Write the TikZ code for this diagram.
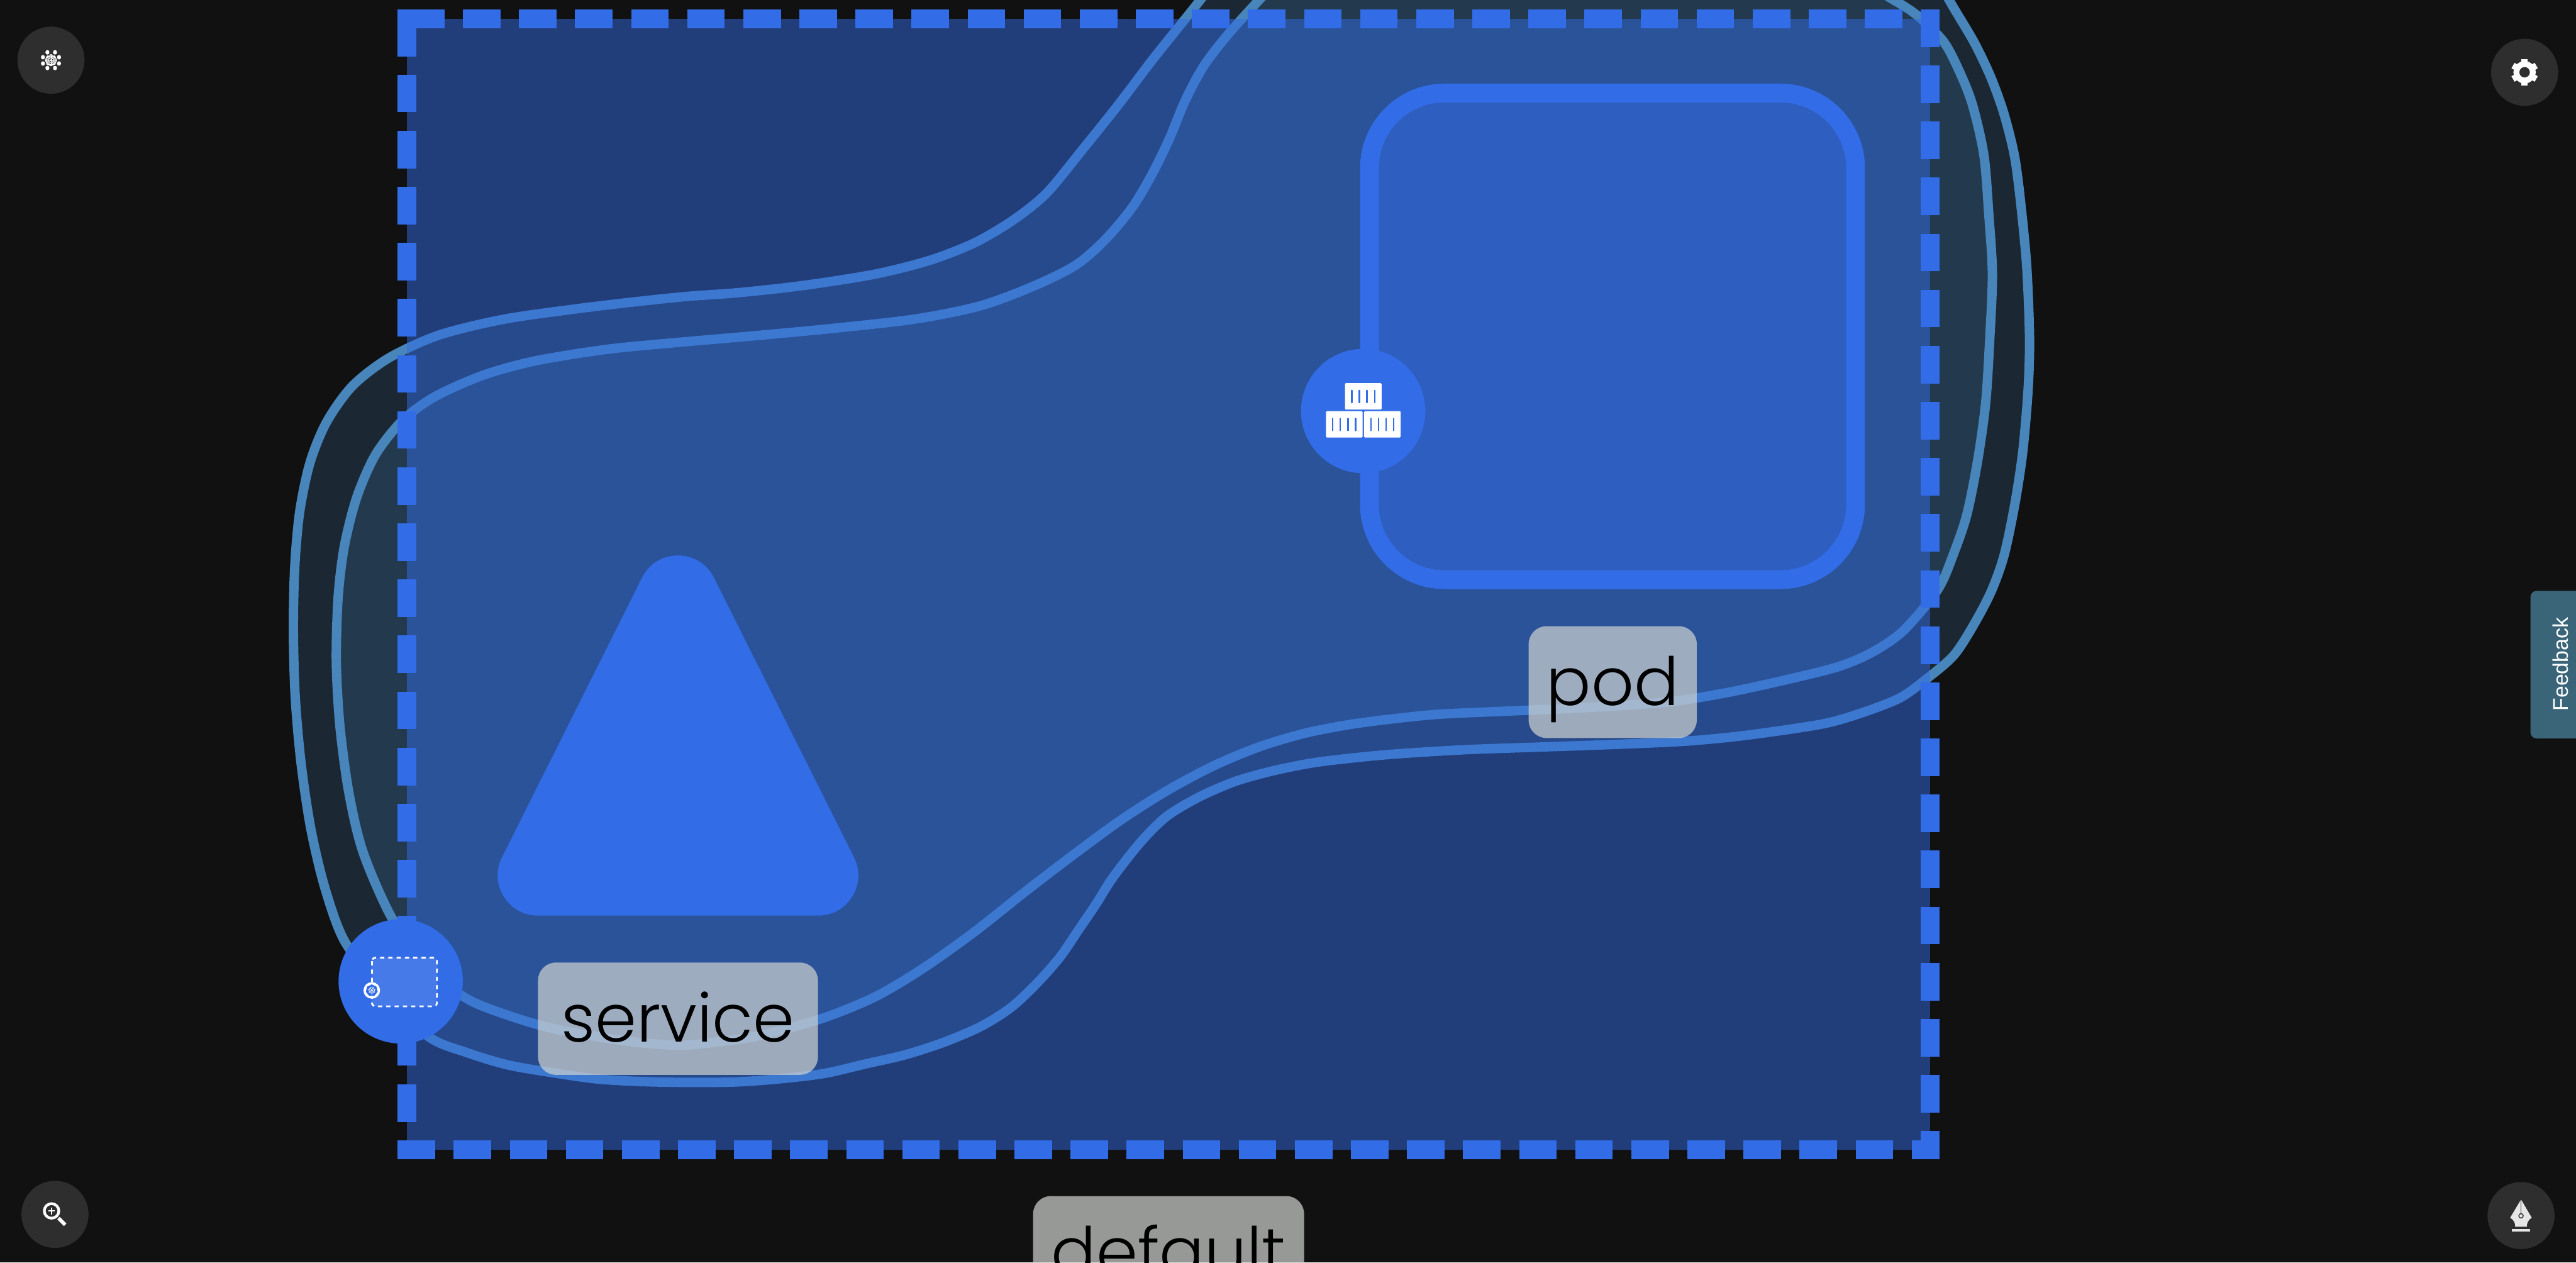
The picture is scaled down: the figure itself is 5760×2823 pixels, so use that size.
\documentclass[tikz,border=0pt]{standalone}
\usepackage{fontspec}
\usepackage{xcolor}
\usetikzlibrary{shapes.geometric}
\setmainfont{Liberation Sans}
\newfontfamily\labelfont{Poppins}[UprightFont=* Light]
\definecolor{bgdark}{HTML}{111111}
\definecolor{mainblue}{HTML}{326CE6}
\definecolor{blobline}{HTML}{4785BB}
\definecolor{btngrey}{HTML}{2E2E2E}
\definecolor{tabteal}{HTML}{3A6478}
\definecolor{labelgrey}{HTML}{D0D3CF}
\definecolor{nibgrey}{HTML}{E6E6E6}
\tikzset{
    blob/.style={draw=blobline, fill=blobline, fill opacity=0.2, draw opacity=1, line width=2.1pt, line join=round},
    nsedge/.style={draw=mainblue, line width=4.2pt, dash pattern=on 8.4pt off 4.14pt},
    podbox/.style={draw=mainblue, fill=mainblue, fill opacity=0.5, draw opacity=1, line width=4.2pt, rounded corners=16.8pt, inner sep=0pt},
    portdot/.style={circle, fill=mainblue, inner sep=0pt, minimum size=27.8pt},
    toolbtn/.style={circle, fill=btngrey, inner sep=0pt, minimum size=15pt},
    objlabel/.style={fill=labelgrey, fill opacity=0.7, text opacity=1, text=black, rounded corners=4pt, inner sep=0pt,
        text height=12pt, text depth=1.6pt, font=\labelfont\fontsize{14.9}{18}\selectfont},
    crate/.style={fill=white, rounded corners=0.2pt}
}
\begin{document}
\begin{tikzpicture}[x=0.1pt, y=-0.1pt]
    \useasboundingbox (0,0) rectangle (5760,2823);
    \clip (0,0) rectangle (5760,2823);
    \fill[bgdark] (0,0) rectangle (5760,2823);

    \path[blob] plot[smooth cycle, tension=0.5] coordinates {
        (772,2107) (727,1987) (695,1853) (673,1705) (660,1556) (656,1408) (659,1269) (670,1145) (693,1035) (730,944)
        (788,863) (870,800) (982,749) (1125,714) (1277,692) (1400,677) (1533,663) (1655,654) (1798,638) (1956,613)
        (2079,582) (2181,542) (2267,491) (2340,432) (2420,335) (2500,235) (2579,131) (2660,30) (2740,-70) (2830,-170)
        (3000,-280) (3300,-350) (3600,-350) (3900,-320) (4120,-230) (4260,-130) (4330,-45) (4374,27) (4416,98) (4452,174)
        (4481,255) (4505,352) (4520,470) (4532,600) (4538,754) (4535,868) (4523,1009) (4505,1128) (4481,1242) (4452,1323)
        (4412,1399) (4368,1466) (4305,1520) (4247,1561) (4162,1594) (4073,1619) (3904,1644) (3770,1657) (3620,1664) (3450,1670)
        (3279,1676) (3130,1685) (3040,1693) (2939,1705) (2848,1723) (2762,1747) (2681,1782) (2609,1825) (2552,1881) (2489,1961)
        (2451,2021) (2413,2077) (2370,2140) (2317,2200) (2260,2253) (2193,2295) (2111,2330) (2025,2358) (1934,2379) (1843,2400)
        (1743,2412) (1645,2419) (1537,2420) (1430,2418) (1332,2412) (1234,2398) (1136,2381) (1046,2354) (957,2317) (860,2215)};
    \path[blob] plot[smooth cycle, tension=0.5] coordinates {
        (877,2054) (812,1906) (780,1772) (760,1623) (752,1480) (756,1336) (770,1221) (798,1111) (840,1016) (900,940)
        (972,887) (1080,839) (1196,807) (1357,781) (1522,765) (1706,749) (1874,733) (2048,713) (2191,684) (2308,641)
        (2405,593) (2471,536) (2530,466) (2573,395) (2614,312) (2650,225) (2690,150) (2735,90) (2783,35) (2840,-25)
        (2920,-100) (3100,-200) (3300,-260) (3600,-260) (3850,-200) (4020,-120) (4130,-60) (4226,-5) (4285,33) (4345,92)
        (4380,157) (4410,233) (4436,347) (4447,480) (4455,613) (4449,759) (4440,900) (4422,1030) (4398,1150) (4369,1236)
        (4333,1318) (4256,1410) (4185,1459) (4109,1491) (3993,1520) (3859,1549) (3725,1570) (3546,1582) (3368,1590) (3216,1597)
        (3107,1608) (3011,1621) (2915,1640) (2815,1670) (2714,1712) (2609,1768) (2504,1835) (2399,1912) (2293,1993) (2178,2084)
        (2064,2165) (1958,2228) (1841,2276) (1700,2315) (1600,2330) (1520,2337) (1404,2328) (1243,2301) (1136,2270) (1046,2234)
        (960,2170)};

    \fill[mainblue, fill opacity=0.5] (910,42) rectangle (4316,2570);
    \draw[draw=mainblue, line width=4.2pt] (910,126) -- (910,42) -- (994,42);
    \draw[nsedge] (1035,42) -- (4316,42);
    \draw[nsedge] (910,167) -- (910,2591);
    \draw[nsedge] (889,2570) -- (4337,2570);
    \draw[nsedge] (4316,21) -- (4316,2591);

    \node[podbox, minimum width=108.7pt, minimum height=108.8pt] (podrect) at (3605.5,752) {};
    \node[portdot] (podport) at (3048,919) {};
    \fill[crate] (3007.3,856.7) rectangle (3089.3,915.7);
    \fill[crate] (2965,919.3) rectangle (3046.7,978.3);
    \fill[crate] (3050,919.3) rectangle (3132,978.3);
    \foreach \sx in {3022.7,3039.7,3056.7,3073.7}
        \draw[mainblue, line width=0.35pt, line cap=round] (\sx,873) -- (\sx,900);
    \foreach \sx in {2980,2997,3014,3031,3065.3,3082.3,3099.3,3116.3}
        \draw[mainblue, line width=0.35pt, line cap=round] (\sx,935.5) -- (\sx,962.5);

    \filldraw[mainblue, line width=18pt, line join=round] (1516,1332) -- (1829,1957) -- (1203,1957) -- cycle;

    \node[portdot] (svcport) at (896,2194) {};
    \draw[white, line width=0.4pt, dash pattern=on 0.95pt off 0.9pt, fill=white, fill opacity=0.1, draw opacity=1, rounded corners=0.8pt] (831.7,2141) rectangle (977,2250);
    \node[circle, fill=white, inner sep=0pt, minimum size=3.7pt] (svcbadge) at (831.3,2214.3) {};
    \node[regular polygon, regular polygon sides=7, fill=mainblue, inner sep=0pt, minimum size=2.7pt] (svchept) at (svcbadge) {};
    \draw[white, line width=0.1pt] (svcbadge) circle[radius=6.5];
    \foreach \a in {0,51.4,...,360}
        \draw[white, line width=0.08pt] (svcbadge.center) -- ++(\a+90:8.5);

    \node[objlabel, minimum width=62.6pt, minimum height=25.1pt] (svclabel) at (1516,2277.5) {service};
    \node[objlabel, minimum width=37.6pt, minimum height=25pt] (podlabel) at (3606,1525) {pod};
    \node[objlabel, minimum width=60.6pt, minimum height=25pt] (nslabel) at (2613,2799) {default};

    \node[toolbtn] (logobtn) at (114,134.6) {};
    \foreach \dx/\dy in {-8/-17.6, 9/-17.6, 18/-6.6, 18/7.4, 9/17.4, -8/17.4, -18/7.4, -18/-6.6}
        \fill[white] (114+\dx,134.6+\dy) ellipse[x radius=4.5, y radius=5];
    \foreach \a in {0,45,...,315}
        \foreach \b in {0,45,...,315}
            \draw[white, line width=0.05pt] ([shift={(\a:13)}]logobtn.center) -- ([shift={(\b:13)}]logobtn.center);

    \node[toolbtn] (gearbtn) at (5645,161.6) {};
    \draw[white, line width=1.3pt] (gearbtn) circle[radius=18.5];
    \foreach \a in {0,60,...,300}
        \fill[white, rotate around={\a:(gearbtn.center)}] (5638,131.6) rectangle (5652,147);

    \node[toolbtn] (zoombtn) at (123,2715) {};
    \draw[white, line width=0.6pt] (115.3,2707.3) circle[radius=16.3];
    \draw[white, line width=0.8pt] (130.7,2723.3) -- (145.7,2738.3);
    \draw[white, line width=0.3pt] (107.8,2707.3) -- (122.8,2707.3);
    \draw[white, line width=0.3pt] (115.3,2699.8) -- (115.3,2714.8);

    \node[toolbtn] (penbtn) at (5637,2717.7) {};
    \fill[nibgrey] (5637,2681.7) -- (5661,2722.7) .. controls (5652,2728) and (5650,2735) .. (5650,2742.7) -- (5624,2742.7) .. controls (5624,2735) and (5622,2728) .. (5612.7,2722.7) -- cycle;
    \draw[btngrey, line width=0.2pt] (5637,2681.7) -- (5637,2713);
    \draw[btngrey, line width=0.2pt] (5637,2718.3) circle[radius=5];
    \fill[nibgrey] (5617,2748) rectangle (5657,2754);

    \fill[tabteal, rounded corners=1.4pt] (5800,1321) -- (5658,1321) -- (5658,1651) -- (5800,1651) -- cycle;
    \node[rotate=90, text=white, font=\fontsize{4.76}{6}\selectfont, inner sep=0pt] (feedback) at (5726,1485) {Feedback};
\end{tikzpicture}
\end{document}
